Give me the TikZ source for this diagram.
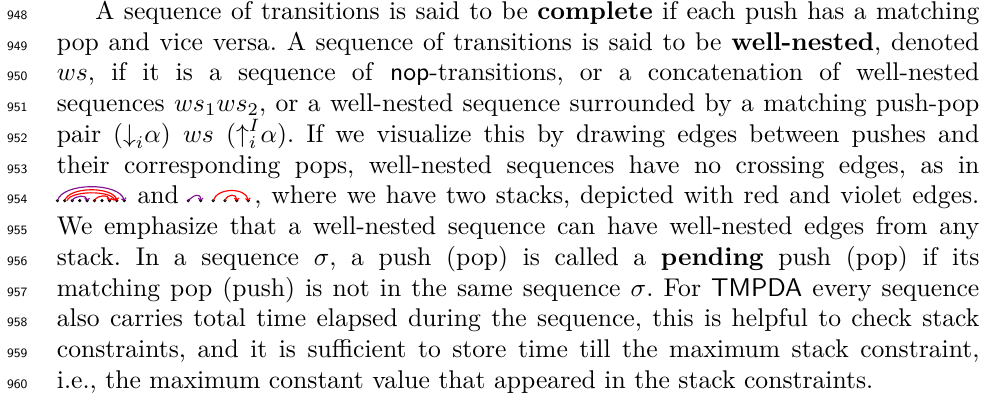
\documentclass[tikz,border=0pt]{standalone}
\usetikzlibrary{arrows.meta}
\definecolor{violetc}{RGB}{130,20,145}
\tikzset{
  txt/.style={anchor=base west, inner sep=0pt, font=\fontsize{10}{12}\selectfont\frenchspacing},
  lnum/.style={anchor=base east, inner sep=0pt, font=\sffamily\tiny},
  dotnode/.style={circle, fill=black, inner sep=0pt, minimum size=1.35pt},
  vedge/.style={draw=violetc, line width=0.45pt, -{To[length=1.1pt,width=2.2pt]}},
  redge/.style={draw=red, line width=0.45pt, -{To[length=1.1pt,width=2.2pt]}}
}
\begin{document}
\begin{tikzpicture}
\useasboundingbox (0,0) rectangle (384pt,-160.8pt);
% line numbers
\foreach \n [count=\k from 0] in {948,949,950,951,952,953,954,955,956,957,958,959,960}
  \node[lnum] (n\n) at (10.9pt,{-7.6pt-12pt*\k}) {\n};
% text lines
\node[txt] (t948) at (37pt,-7.6pt) {\makebox[345pt][s]{A sequence of transitions is said to be \textbf{complete} if each push has a matching}};
\node[txt] (t949) at (22pt,-19.6pt) {\makebox[360pt][s]{pop and vice versa. A sequence of transitions is said to be \textbf{well-nested}, denoted}};
\node[txt] (t950) at (22pt,-31.6pt) {\makebox[360pt][s]{$ws$, if it is a sequence of \textsf{nop}-transitions, or a concatenation of well-nested}};
\node[txt] (t951) at (22pt,-43.6pt) {\makebox[360pt][s]{sequences $ws_1ws_2$, or a well-nested sequence surrounded by a matching push-pop}};
\node[txt] (t952) at (22pt,-55.6pt) {\makebox[360pt][s]{pair ($\mathord{\downarrow}_i\alpha$) $ws$ ($\mathord{\uparrow}_i^I\alpha$). If we visualize this by drawing edges between pushes and}};
\node[txt] (t953) at (22pt,-67.6pt) {\makebox[360pt][s]{their corresponding pops, well-nested sequences have no crossing edges, as in}};
\node[txt] (t954) at (22pt,-79.6pt) {\makebox[360pt][s]{\hspace*{27.6pt} and \hspace*{25.6pt}, where we have two stacks, depicted with red and violet edges.}};
\node[txt] (t955) at (22pt,-91.6pt) {\makebox[360pt][s]{We emphasize that a well-nested sequence can have well-nested edges from any}};
\node[txt] (t956) at (22pt,-103.6pt) {\makebox[360pt][s]{stack. In a sequence $\sigma$, a push (pop) is called a \textbf{pending} push (pop) if its}};
\node[txt] (t957) at (22pt,-115.6pt) {\makebox[360pt][s]{matching pop (push) is not in the same sequence $\sigma$. For \textsf{TMPDA} every sequence}};
\node[txt] (t958) at (22pt,-127.6pt) {\makebox[360pt][s]{also carries total time elapsed during the sequence, this is helpful to check stack}};
\node[txt] (t959) at (22pt,-139.6pt) {\makebox[360pt][s]{constraints, and it is sufficient to store time till the maximum stack constraint,}};
\node[txt] (t960) at (22pt,-151.6pt) {i.e., the maximum constant value that appeared in the stack constraints.};
% first inline diagram
\foreach \i in {1,...,10}
  \node[dotnode] (a\i) at ({22.4pt+2.9pt*(\i-1)},-78.3pt) {};
\draw[vedge] (a1.center) .. controls +(2pt,7.2pt) and +(-2pt,7.2pt) .. (a10.center);
\draw[redge] (a2.center) .. controls +(1.5pt,5.6pt) and +(-1.5pt,5.6pt) .. (a9.center);
\draw[redge] ([xshift=0.9pt]a2.center) .. controls +(1.2pt,4pt) and +(-1.2pt,4pt) .. ([xshift=-0.9pt]a9.center);
\draw[vedge] (a3.center) .. controls +(1pt,2.2pt) and +(0pt,2.2pt) .. (a5.center);
\draw[redge] (a6.center) .. controls +(1pt,2.4pt) and +(0pt,2.4pt) .. (a8.center);
% second inline diagram
\foreach \x [count=\i] in {73.5,78.3,83.2,87.8,92.4,96.9}
  \node[dotnode] (b\i) at (\x pt,-78.3pt) {};
\draw[vedge] (b1.center) .. controls +(2pt,2.2pt) and +(0pt,3.2pt) .. (b2.center);
\draw[redge] (b3.center) .. controls +(1.5pt,5.2pt) and +(-1pt,5.2pt) .. (b6.center);
\draw[redge] (b4.center) .. controls +(1pt,2.8pt) and +(0pt,2.8pt) .. (b5.center);
\end{tikzpicture}
\end{document}
